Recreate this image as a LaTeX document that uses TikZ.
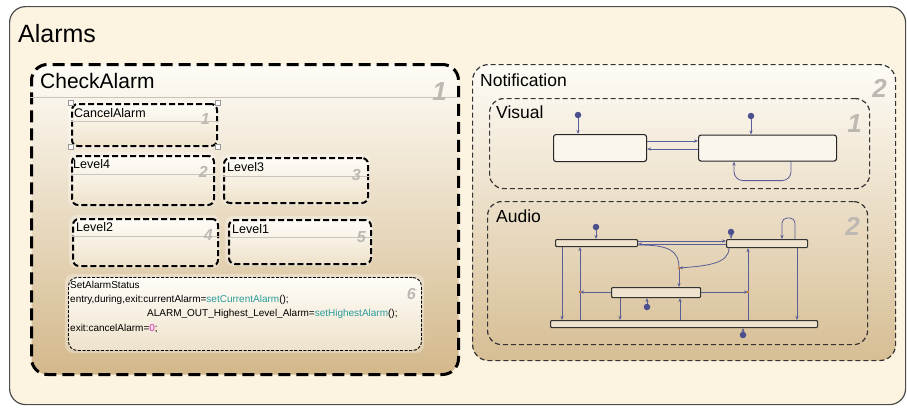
\documentclass[tikz,border=0pt]{standalone}
\usepackage{fontspec}
\setmainfont{Liberation Sans}
\usetikzlibrary{arrows.meta,calc}
\definecolor{outerfill}{HTML}{FDF3E1}
\definecolor{gtop}{HTML}{FEFCF6}
\definecolor{gbot}{HTML}{D3B88B}
\definecolor{subtop}{HTML}{FFFDF8}
\definecolor{subbot}{HTML}{EEE2CB}
\definecolor{numgray}{HTML}{BDB9B2}
\definecolor{sepgray}{HTML}{C9C4BC}
\definecolor{trc}{HTML}{5A5E98}
\definecolor{dotc}{HTML}{4B4F8E}
\definecolor{barfill}{HTML}{EFE3CE}
\definecolor{vfill}{HTML}{FBF6EC}
\definecolor{juncc}{HTML}{D07A2E}
\definecolor{fnteal}{HTML}{2A9C9A}
\definecolor{nummag}{HTML}{E020C0}
\begin{document}
\begin{tikzpicture}[x=1pt,y=-1pt,
  num/.style={font=\bfseries\itshape, text=numgray, inner sep=0, anchor=base east},
  ttl/.style={inner sep=0, anchor=base west},
  substate/.style={draw=black, line width=2pt, dash pattern=on 6pt off 3pt, rounded corners=6pt,
     top color=subtop, bottom color=subbot, anchor=north west, inner sep=0},
  glow/.style={fill=white, fill opacity=0.3, rounded corners=8pt},
  vbox/.style={draw=black!85, line width=1.1pt, rounded corners=2.5pt, fill=vfill, anchor=north west, inner sep=0},
  bar/.style={draw=black!80, line width=1.1pt, rounded corners=1pt, fill=barfill, anchor=north west, inner sep=0},
  tr/.style={draw=trc, line width=0.8pt, -{Stealth[length=4pt,width=3.2pt]}},
  trl/.style={draw=trc, line width=0.8pt},
  dotn/.style={circle, fill=dotc, inner sep=0, minimum size=6.5pt},
  junc/.style={circle, fill=juncc, inner sep=0, minimum size=2.6pt},
  handle/.style={draw=gray!80, fill=white, line width=0.5pt, inner sep=0, minimum size=5pt}
]
\useasboundingbox (0,0) rectangle (907,410);

% ---------- outer Alarms ----------
\node[draw=black!70, line width=1.2pt, rounded corners=16pt, fill=outerfill, anchor=north west,
      minimum width=896, minimum height=398, inner sep=0] (alarms) at (9,6) {};
\node[ttl, font=\fontsize{25}{28}\selectfont] (talarms) at (18,42) {Alarms};

% ---------- CheckAlarm ----------
\node[draw=black, line width=3pt, dash pattern=on 12pt off 6pt, rounded corners=16pt,
      top color=gtop, bottom color=gbot, anchor=north west, minimum width=427, minimum height=310, inner sep=0]
      (check) at (30,63) {};
\draw[sepgray, line width=0.6pt] ([yshift=-34]check.north west) -- ([yshift=-34]check.north east);
\node[ttl, font=\fontsize{21}{24}\selectfont] (tcheck) at (40,88) {CheckAlarm};
\node[num, font=\fontsize{26}{28}\selectfont\bfseries\itshape] (ncheck) at (447,100) {1};

% substates with glow
\fill[glow] (68,101) rectangle (219,148);
\fill[glow] (68,152) rectangle (216,207);
\fill[glow] (220,154) rectangle (370,205);
\fill[glow] (69,215) rectangle (220,268);
\fill[glow] (225,216) rectangle (373,266);
\fill[glow] (65,274) rectangle (424,353);

\node[substate, minimum width=145, minimum height=42] (cancel) at (71,103) {};
\node[substate, minimum width=142, minimum height=49] (lvl4) at (71,155) {};
\node[substate, minimum width=144, minimum height=45] (lvl3) at (223,157) {};
\node[substate, minimum width=145, minimum height=47] (lvl2) at (72,218) {};
\node[substate, minimum width=142, minimum height=44] (lvl1) at (228,219) {};
\node[substate, line width=0.9pt, dash pattern=on 3pt off 1.6pt, rounded corners=9pt,
      minimum width=353, minimum height=73] (setst) at (68,277) {};

\draw[sepgray, line width=0.6pt] ([yshift=-18]cancel.north west) -- ([yshift=-18]cancel.north east);
\draw[sepgray, line width=0.6pt] ([yshift=-19]lvl4.north west) -- ([yshift=-19]lvl4.north east);
\draw[sepgray, line width=0.6pt] ([yshift=-19]lvl3.north west) -- ([yshift=-19]lvl3.north east);
\draw[sepgray, line width=0.6pt] ([yshift=-18]lvl2.north west) -- ([yshift=-18]lvl2.north east);
\draw[sepgray, line width=0.6pt] ([yshift=-18]lvl1.north west) -- ([yshift=-18]lvl1.north east);

\node[handle] (h1) at (cancel.north west) {};
\node[handle] (h2) at (cancel.north east) {};
\node[handle] (h3) at (cancel.south west) {};
\node[handle] (h4) at (cancel.south east) {};

\node[ttl, font=\fontsize{12.5}{14}\selectfont] (tcancel) at (74,117) {CancelAlarm};
\node[ttl, font=\fontsize{12.5}{14}\selectfont] (tl4) at (73,168) {Level4};
\node[ttl, font=\fontsize{12.5}{14}\selectfont] (tl3) at (227,171) {Level3};
\node[ttl, font=\fontsize{12.5}{14}\selectfont] (tl2) at (76,231) {Level2};
\node[ttl, font=\fontsize{12.5}{14}\selectfont] (tl1) at (232,233) {Level1};

\node[num, font=\fontsize{16}{18}\selectfont\bfseries\itshape] (n1) at (210,124) {1};
\node[num, font=\fontsize{16}{18}\selectfont\bfseries\itshape] (n2) at (208,177) {2};
\node[num, font=\fontsize{16}{18}\selectfont\bfseries\itshape] (n3) at (361,180) {3};
\node[num, font=\fontsize{16}{18}\selectfont\bfseries\itshape] (n4) at (213,240) {4};
\node[num, font=\fontsize{16}{18}\selectfont\bfseries\itshape] (n5) at (366,242) {5};
\node[num, font=\fontsize{16}{18}\selectfont\bfseries\itshape] (n6) at (416,299) {6};

\node[ttl, font=\fontsize{10}{12}\selectfont] (s1) at (70,288) {SetAlarmStatus};
\node[ttl, font=\fontsize{10}{12}\selectfont] (s2) at (70,302)
  {entry,during,exit:currentAlarm=\textcolor{fnteal}{setCurrentAlarm}();};
\node[ttl, font=\fontsize{10}{12}\selectfont] (s3) at (147,316)
  {ALARM\_OUT\_Highest\_Level\_Alarm=\textcolor{fnteal}{setHighestAlarm}();};
\node[ttl, font=\fontsize{10}{12}\selectfont] (s4) at (70,331)
  {exit:cancelAlarm=\textcolor{nummag}{0};};

% ---------- Notification ----------
\node[draw=black!80, line width=1.2pt, dash pattern=on 5pt off 3pt, rounded corners=16pt,
      top color=gtop, bottom color=gbot!92!white, anchor=north west, minimum width=423, minimum height=296, inner sep=0]
      (notif) at (472,64) {};
\node[ttl, font=\fontsize{17.5}{20}\selectfont] (tnotif) at (480,86) {Notification};
\node[num, font=\fontsize{26}{28}\selectfont\bfseries\itshape] (nnotif) at (887,97) {2};

\node[draw=black!80, line width=1.2pt, dash pattern=on 5pt off 3pt, rounded corners=14pt,
      anchor=north west, minimum width=380, minimum height=90, inner sep=0] (visual) at (489,98) {};
\node[ttl, font=\fontsize{17.5}{20}\selectfont] (tvisual) at (496,118) {Visual};
\node[num, font=\fontsize{26}{28}\selectfont\bfseries\itshape] (nvisual) at (862,132) {1};

\node[draw=black!80, line width=1.2pt, dash pattern=on 5pt off 3pt, rounded corners=14pt,
      anchor=north west, minimum width=380, minimum height=143, inner sep=0] (audio) at (487,201) {};
\node[ttl, font=\fontsize{17.5}{20}\selectfont] (taudio) at (496,222) {Audio};
\node[num, font=\fontsize{26}{28}\selectfont\bfseries\itshape] (naudio) at (860,235) {2};

% ---------- Visual chart ----------
\node[vbox, minimum width=93, minimum height=27] (v1) at (553,134) {};
\node[vbox, minimum width=138, minimum height=26] (v2) at (698,134.5) {};
\node[dotn] (vd1) at (578,115) {};
\node[dotn] (vd2) at (751,116) {};
\draw[tr] (vd1) -- (vd1 |- v1.north);
\draw[tr] (vd2) -- (vd2 |- v2.north);
\draw[tr] ([yshift=-7]v1.north east) -- ([yshift=-7]v1.north east -| v2.west);
\draw[tr] ([yshift=-15]v1.north east -| v2.west) -- ([yshift=-15]v1.north east);
\draw[tr, rounded corners=9pt] ($(v2.south west)+(93,0)$) -- ($(v2.south west)+(93,19)$)
   -- ($(v2.south west)+(36,19)$) -- ($(v2.south west)+(36,0)$);

% ---------- Audio chart ----------
\node[bar, minimum width=82, minimum height=7] (A) at (555,239) {};
\node[bar, minimum width=81, minimum height=8] (B) at (726,239) {};
\node[bar, minimum width=89, minimum height=10] (C) at (611,287) {};
\node[bar, minimum width=267, minimum height=7] (D) at (550,320) {};

\coordinate (j1) at (679,268);
\coordinate (j2) at (580,292);
\coordinate (j3) at (748,292);

\node[dotn] (da) at (596,227) {};
\node[dotn] (db) at (731,232) {};
\node[dotn] (dc) at (647,307) {};
\node[dotn] (dd) at (743,335) {};
\draw[tr] (da) -- (da |- A.north);
\draw[tr] (db) -- (db |- B.north);
\draw[tr] (dc) -- (dc |- C.south);
\draw[tr] (dd) -- (dd |- D.south);

\draw[tr] ([yshift=-2]A.north east) -- ([yshift=-2]A.north east -| B.west);
\draw[tr] ([yshift=-5]B.north west) -- ([yshift=-5]B.north west -| A.east);
\draw[trl] ([yshift=-6]A.north east) .. controls +(30,0) and (679,250) .. (j1);
\draw[tr] ([xshift=3]B.south west) .. controls +(0,16) and (705,266) .. (j1);
\draw[tr] (j1) -- (j1 |- C.north);
\draw[tr] (C.west |- j2) -- (j2);
\draw[tr] (C.east |- j3) -- (j3);
\draw[trl] (j2 |- D.north) -- (j2);
\draw[tr] (j2) -- (j2 |- A.south);
\draw[trl] (j3 |- D.north) -- (j3);
\draw[tr] (j3) -- (j3 |- B.south);
\coordinate (xa) at (562,0);
\coordinate (xc1) at (620,0);
\coordinate (xc2) at (680,0);
\coordinate (xb) at (797,0);
\draw[tr] (xa |- A.south) -- (xa |- D.north);
\draw[tr] (xc1 |- C.south) -- (xc1 |- D.north);
\draw[tr] (xc2 |- D.north) -- (xc2 |- C.south);
\draw[tr] (xb |- B.south) -- (xb |- D.north);
\coordinate (lp1) at (795,218);
\coordinate (lp2) at (782,218);
\draw[tr, rounded corners=5pt] (lp1 |- B.north) -- (lp1) -- (lp2) -- (lp2 |- B.north);

\node[junc] (jj1) at (j1) {};
\node[junc] (jj2) at (j2) {};
\node[junc] (jj3) at (j3) {};
\end{tikzpicture}
\end{document}
